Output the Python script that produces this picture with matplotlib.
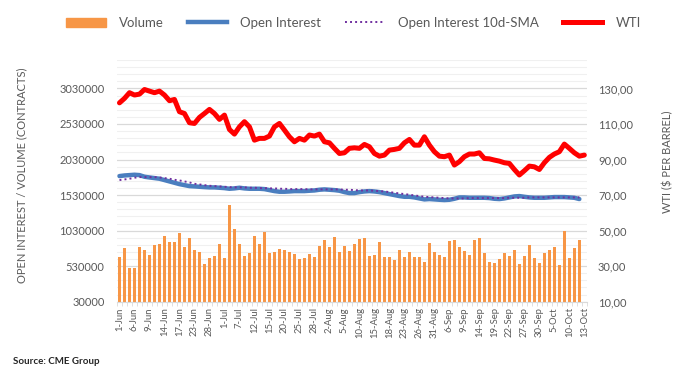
import numpy as np
import pandas as pd
import matplotlib
matplotlib.use('Agg')
import matplotlib.pyplot as plt
from matplotlib.lines import Line2D
from matplotlib.patches import Patch
from matplotlib.ticker import FixedLocator, FuncFormatter

plt.rcParams['font.family'] = ['Lato', 'DejaVu Sans']

# 交易日（2022年，剔除美国假日）
holidays = ['2022-06-20', '2022-07-04', '2022-09-05']
days = pd.bdate_range('2022-06-01', '2022-10-13')
days = days[~days.isin(pd.to_datetime(holidays))]
dates = [f"{d.day}-{d.strftime('%b')}" for d in days]

# 成交量（千手），至 12-Oct
volume_k = [658, 780, 499, 499, 794, 752, 682, 822, 836, 949, 864, 864, 991, 794, 921, 752, 724, 555, 639, 667, 836, 639, 1385, 1047,
            836, 672, 710, 953, 836, 1005, 710, 724, 766, 752, 724, 696, 625, 639, 696, 653, 813, 892, 794, 935, 724, 813, 738, 836,
            906, 921, 672, 686, 864, 653, 653, 611, 752, 653, 724, 653, 653, 583, 850, 724, 682, 653, 878, 892, 794, 738, 682, 892, 921,
            710, 583, 569, 625, 710, 667, 752, 555, 667, 822, 639, 569, 710, 752, 794, 541, 1019, 639, 780, 892]
# 持仓量（千手）
oi_k = [1797, 1806, 1811, 1816, 1811, 1788, 1778, 1769, 1760, 1741, 1722, 1703, 1684, 1670, 1656, 1652, 1647, 1642, 1638, 1638, 1633, 1628, 1619, 1624,
        1633, 1624, 1619, 1619, 1619, 1614, 1600, 1586, 1577, 1577, 1581, 1586, 1586, 1586, 1591, 1595, 1605, 1610, 1605, 1600, 1591, 1572, 1558,
        1558, 1572, 1581, 1586, 1581, 1572, 1558, 1544, 1530, 1516, 1506, 1506, 1497, 1483, 1469, 1474, 1469, 1464, 1460, 1464, 1478, 1497, 1497, 1492, 1492, 1492,
        1492, 1488, 1478, 1474, 1483, 1497, 1511, 1516, 1506, 1497, 1492, 1492, 1492, 1497, 1502, 1502, 1502, 1497, 1492, 1474]
# 持仓量10日均线（千手）
sma_k = [1741, 1750, 1760, 1774, 1783, 1783, 1783, 1783, 1778, 1769, 1760, 1745, 1736, 1722, 1708, 1689, 1680, 1670, 1661, 1656, 1652, 1647, 1642, 1638,
         1638, 1638, 1633, 1633, 1628, 1628, 1624, 1624, 1619, 1619, 1614, 1614, 1614, 1614, 1610, 1610, 1610, 1610, 1610, 1610, 1610, 1605, 1605, 1600,
         1595, 1595, 1595, 1591, 1586, 1581, 1572, 1563, 1553, 1544, 1535, 1525, 1516, 1506, 1502, 1497, 1492, 1488, 1483, 1483, 1483, 1483, 1488, 1488, 1488,
         1488, 1488, 1488, 1488, 1488, 1492, 1492, 1492, 1492, 1497, 1497, 1497, 1497, 1497, 1497, 1497, 1497, 1497, 1497, 1497]
# WTI（美元/桶），至 13-Oct
wti = [121.9, 124.4, 127.6, 126.3, 126.8, 129.4, 128.5, 127.6, 128.5, 126.3, 123.1, 123.8, 116.9, 115.9, 110.7, 110.3, 113.7, 115.9, 118.2, 115.9, 112.6, 115.0, 106.9, 104.3,
       108.4, 111.3, 108.4, 100.9, 101.9, 101.9, 103.2, 108.4, 110.3, 106.6, 102.8, 100.0, 101.9, 100.9, 103.8, 103.2, 104.3, 100.0, 99.4, 96.3, 93.4, 93.8, 96.3, 96.6,
       96.3, 98.5, 97.2, 93.4, 91.9, 92.5, 95.3, 95.7, 96.3, 99.4, 101.3, 98.1, 98.1, 102.8, 98.1, 94.4, 91.9, 91.6, 92.5, 86.9, 88.8, 91.6, 93.1, 93.1, 93.8,
       90.6, 90.4, 89.7, 89.1, 88.2, 87.8, 84.4, 81.3, 83.7, 86.3, 85.9, 84.4, 88.2, 91.2, 93.1, 94.4, 98.7, 96.3, 93.8, 91.9, 92.5]

volume = np.array(volume_k) * 1000
oi = np.array(oi_k) * 1000
sma = np.array(sma_k) * 1000
x = np.arange(len(dates))
n = len(volume)

txt = '#595959'
fig = plt.figure(figsize=(6.93, 3.81), dpi=100)
ax = fig.add_axes([0.1688, 0.2081, 0.678, 0.6344])

ax.bar(x[:n], volume, width=0.72, color='#F79646', zorder=2)
ax.plot(x[:n], oi, color='#4A7EBF', lw=3.2, solid_capstyle='round', zorder=3)
ax.plot(x[:n], sma, color='#7030A0', lw=1.4, ls=(0, (1, 1.6)), zorder=4)

ax.set_xlim(-0.5, len(x) - 0.5)
ax.set_ylim(30000, 3430000)
ax.yaxis.set_major_locator(FixedLocator(np.arange(30000, 3030001, 500000)))
ax.yaxis.set_minor_locator(FixedLocator(np.arange(30000, 3430001, 100000)))
ax.yaxis.set_major_formatter(FuncFormatter(lambda v, p: f'{int(round(v))}'))
ax.grid(which='major', axis='y', color='#D9D9D9', lw=0.9)
ax.grid(which='minor', axis='y', color='#F0F0F0', lw=0.8)
ax.set_axisbelow(True)
for s in ['top', 'right', 'left']:
    ax.spines[s].set_visible(False)
ax.spines['bottom'].set_color('#D9D9D9')
ax.tick_params(axis='y', which='both', length=0, labelsize=8, colors=txt, pad=9)

ax.set_xticks(x[::3])
ax.set_xticklabels(dates[::3], rotation=90, fontsize=6.8, color=txt)
ax.xaxis.set_minor_locator(FixedLocator(np.arange(-0.5, len(x), 1)))
ax.tick_params(axis='x', which='major', length=0, pad=4)
ax.tick_params(axis='x', which='minor', length=3, color='#D9D9D9')

ax2 = ax.twinx()
ax2.plot(x, wti, color='#FF0000', lw=3.6, solid_capstyle='round', zorder=5)
ax2.set_ylim(10, 146)
ax2.yaxis.set_major_locator(FixedLocator(np.arange(10, 131, 20)))
ax2.yaxis.set_major_formatter(FuncFormatter(lambda v, p: f'{v:.2f}'.replace('.', ',')))
for s in ['top', 'right', 'left', 'bottom']:
    ax2.spines[s].set_visible(False)
ax2.tick_params(axis='y', length=0, labelsize=8, colors=txt, pad=8)

fig.text(22 / 693, 1 - 175 / 381, 'OPEN INTEREST / VOLUME (CONTRACTS)', rotation=90,
         ha='center', va='center', fontsize=8, color=txt)
fig.text(668 / 693, 1 - 162 / 381, 'WTI ($ PER BARREL)', rotation=90,
         ha='center', va='center', fontsize=8, color=txt)
fig.text(13 / 693, 1 - 362 / 381, 'Source: CME Group', ha='left', va='center',
         fontsize=7, fontweight='bold', color='#262626')

handles = [Patch(color='#F79646'),
           Line2D([], [], color='#4A7EBF', lw=3.2),
           Line2D([], [], color='#7030A0', lw=1.4, ls=(0, (1, 1.6))),
           Line2D([], [], color='#FF0000', lw=3.6)]
labels = ['Volume', 'Open Interest', 'Open Interest 10d-SMA', 'WTI']
leg = fig.legend(handles, labels, ncol=4, loc='center', bbox_to_anchor=(0.51, 0.94),
                 frameon=False, fontsize=9.5, handlelength=3, columnspacing=1.8,
                 handletextpad=1.0)
for t in leg.get_texts():
    t.set_color(txt)

fig.savefig('out.png', dpi=100)
